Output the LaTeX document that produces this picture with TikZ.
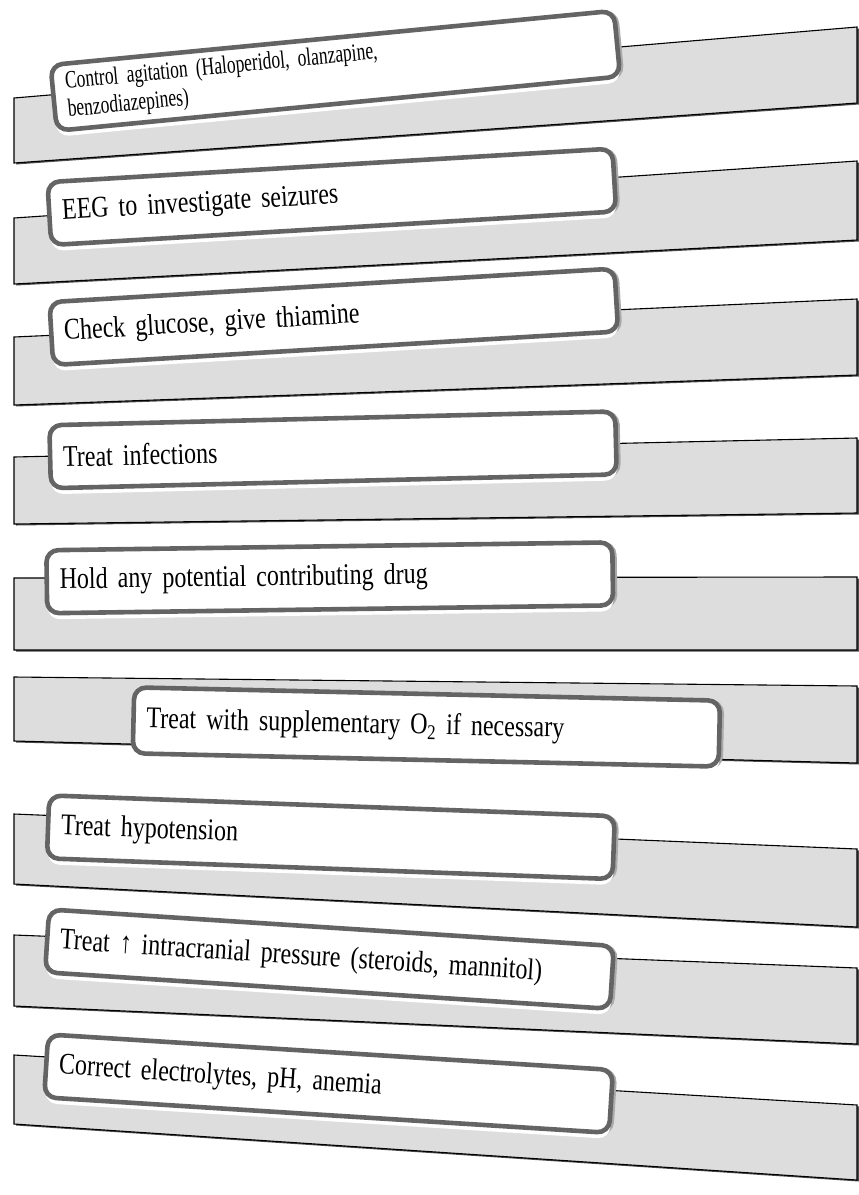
\documentclass[tikz,border=0pt]{standalone}
\usepackage{fontspec}
\setmainfont{Liberation Serif}[FakeStretch=0.8]
\newfontfamily\condensedserif{Liberation Serif}[FakeStretch=0.7]
\usetikzlibrary{shadows}
\definecolor{bandgray}{HTML}{DCDDDC}
\definecolor{boxedge}{HTML}{646464}
\begin{document}
\begin{tikzpicture}[x=1pt,y=-1pt,
  band/.style={fill=bandgray, draw=black, line width=1.1pt, line join=miter},
  bandshade/.style={fill=black!70, draw=none},
  stepbox/.style={draw=boxedge, fill=white, line width=4.6pt, rounded corners=12pt,
    anchor=north west, minimum width=566pt, minimum height=63pt,
    text width=540pt, align=left, inner xsep=12pt, inner ysep=0pt,
    font=\fontsize{30}{33}\selectfont,
    preaction={draw=boxedge!55, line width=4.6pt, fill=none, transform canvas={xshift=2pt, yshift=-1pt}},
    preaction={fill=white, draw=none, transform canvas={xshift=0.5pt, yshift=-6pt}}},
]
\useasboundingbox (0,0) rectangle (859,1195);

% tilted grey bands, each with a dark edge shadow on the right and bottom
\foreach \a/\b/\c/\d in {
  98/27/103/163,
  218/161/240/284,
  337/299/375/405,
  457/438/513/524,
  578/577/650/650,
  677/686/763/741,
  814/849/927/884,
  935/968/1044/1006,
  1055/1105/1180/1124}
{
  \fill[bandshade] (16,\a+1.5) -- (859,\b+1.5) -- (859,\c+1.5) -- (16,\d+1.5) -- cycle;
  \draw[band] (14,\a) -- (857,\b) -- (857,\c) -- (14,\d) -- cycle;
}

% white step boxes
\node[stepbox, rotate=5.5, minimum height=66pt, font=\condensedserif\fontsize{25}{28}\selectfont] (b1) at (48,63)
  {Control agitation (Haloperidol, olanzapine,\\benzodiazepines)};
\node[stepbox, rotate=3.4] (b2) at (45,180) {EEG to investigate seizures};
\node[stepbox, rotate=3.4] (b3) at (47,300) {Check glucose, give thiamine};
\node[stepbox, rotate=1.4] (b4) at (47,423) {Treat infections};
\node[stepbox, rotate=0.8] (b5) at (44,548) {Hold any potential contributing drug};
\node[stepbox, rotate=-1.3, minimum width=586pt, minimum height=66pt, text width=560pt] (b6) at (132,685)
  {Treat with supplementary O\textsubscript{2} if necessary};
\node[stepbox, rotate=-2.1] (b7) at (47,793) {Treat hypotension};
\node[stepbox, rotate=-3.7] (b8) at (47,907) {Treat ↑ intracranial pressure (steroids, mannitol)};
\node[stepbox, rotate=-3.6] (b9) at (46,1032) {Correct electrolytes, pH, anemia};
\end{tikzpicture}
\end{document}
